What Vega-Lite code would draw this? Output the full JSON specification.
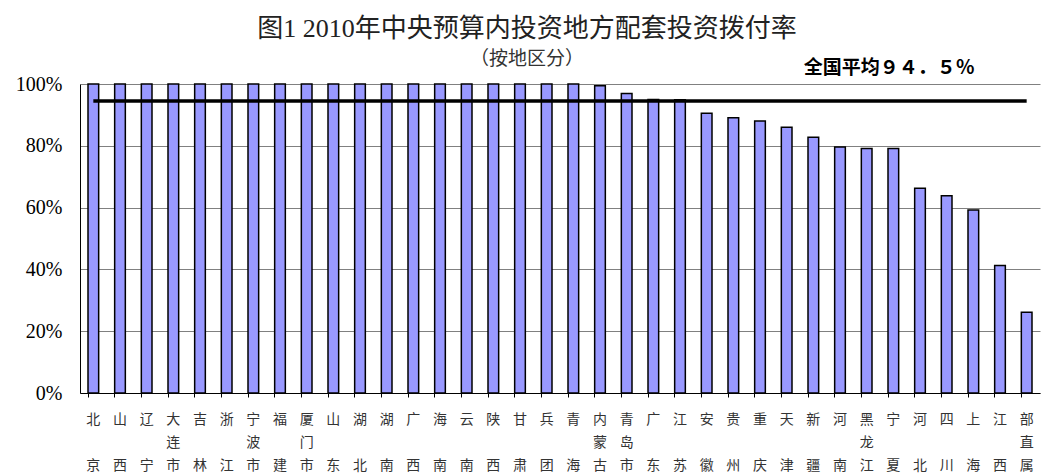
{
  "$schema": "https://vega.github.io/schema/vega-lite/v6.json",
  "autosize": {"type": "none"},
  "padding": {"left": 80, "top": 84, "right": 2, "bottom": 81},
  "width": 960,
  "height": 309,
  "background": "white",
  "config": {"view": {"stroke": null}},
  "title": {
    "text": "图1 2010年中央预算内投资地方配套投资拨付率",
    "subtitle": "（按地区分）",
    "anchor": "middle",
    "frame": "group",
    "dx": -33,
    "offset": -10,
    "font": "Liberation Serif, Noto Sans CJK SC",
    "fontSize": 26,
    "fontWeight": "normal",
    "color": "#222222",
    "subtitleFont": "Liberation Serif, Noto Sans CJK SC",
    "subtitleFontSize": 19,
    "subtitleColor": "#333333",
    "subtitlePadding": 8
  },
  "data": {
    "values": [
      {"region": "北京", "rate": 100, "avg": 94.5},
      {"region": "山西", "rate": 100, "avg": 94.5},
      {"region": "辽宁", "rate": 100, "avg": 94.5},
      {"region": "大连市", "rate": 100, "avg": 94.5},
      {"region": "吉林", "rate": 100, "avg": 94.5},
      {"region": "浙江", "rate": 100, "avg": 94.5},
      {"region": "宁波市", "rate": 100, "avg": 94.5},
      {"region": "福建", "rate": 100, "avg": 94.5},
      {"region": "厦门市", "rate": 100, "avg": 94.5},
      {"region": "山东", "rate": 100, "avg": 94.5},
      {"region": "湖北", "rate": 100, "avg": 94.5},
      {"region": "湖南", "rate": 100, "avg": 94.5},
      {"region": "广西", "rate": 100, "avg": 94.5},
      {"region": "海南", "rate": 100, "avg": 94.5},
      {"region": "云南", "rate": 100, "avg": 94.5},
      {"region": "陕西", "rate": 100, "avg": 94.5},
      {"region": "甘肃", "rate": 100, "avg": 94.5},
      {"region": "兵团", "rate": 100, "avg": 94.5},
      {"region": "青海", "rate": 100, "avg": 94.5},
      {"region": "内蒙古", "rate": 99.4, "avg": 94.5},
      {"region": "青岛市", "rate": 96.9, "avg": 94.5},
      {"region": "广东", "rate": 95.0, "avg": 94.5},
      {"region": "江苏", "rate": 94.9, "avg": 94.5},
      {"region": "安徽", "rate": 90.5, "avg": 94.5},
      {"region": "贵州", "rate": 89.1, "avg": 94.5},
      {"region": "重庆", "rate": 88.0, "avg": 94.5},
      {"region": "天津", "rate": 86.0, "avg": 94.5},
      {"region": "新疆", "rate": 82.8, "avg": 94.5},
      {"region": "河南", "rate": 79.6, "avg": 94.5},
      {"region": "黑龙江", "rate": 79.1, "avg": 94.5},
      {"region": "宁夏", "rate": 79.1, "avg": 94.5},
      {"region": "河北", "rate": 66.3, "avg": 94.5},
      {"region": "四川", "rate": 63.8, "avg": 94.5},
      {"region": "上海", "rate": 59.2, "avg": 94.5},
      {"region": "江西", "rate": 41.3, "avg": 94.5},
      {"region": "部直属", "rate": 26.1, "avg": 94.5}
    ]
  },
  "encoding": {
    "x": {
      "field": "region",
      "type": "nominal",
      "sort": null,
      "scale": {"paddingInner": 0.6, "paddingOuter": 0.3},
      "axis": {
        "title": null,
        "labelAngle": 0,
        "labelAlign": "center",
        "labelBaseline": "top",
        "labelFont": "Noto Sans CJK SC",
        "labelFontSize": 14,
        "labelColor": "#333333",
        "labelLineHeight": 23,
        "labelPadding": 15,
        "labelOverlap": false,
        "labelBound": false,
        "labelExpr": "substring(datum.value, 2, 3) == '' ? [substring(datum.value, 0, 1), '\u200b', substring(datum.value, 1, 2)] : [substring(datum.value, 0, 1), substring(datum.value, 1, 2), substring(datum.value, 2, 3)]",
        "bandPosition": 0,
        "ticks": true,
        "tickSize": 4,
        "tickColor": "#000000",
        "tickWidth": 1,
        "domainColor": "#000000",
        "domainWidth": 1,
        "grid": false
      }
    }
  },
  "layer": [
    {
      "mark": {"type": "bar", "fill": "#9999FF", "stroke": "#000000", "strokeWidth": 1.5},
      "encoding": {
        "y": {
          "field": "rate",
          "type": "quantitative",
          "scale": {"domain": [0, 100], "nice": false},
          "axis": {
            "title": null,
            "values": [0, 20, 40, 60, 80, 100],
            "labelExpr": "datum.value + '%'",
            "labelFont": "Liberation Serif",
            "labelFontSize": 20,
            "labelColor": "#000000",
            "labelPadding": 18,
            "ticks": false,
            "grid": true,
            "gridColor": "#808080",
            "gridWidth": 1,
            "domain": true,
            "domainColor": "#000000",
            "domainWidth": 1
          }
        }
      }
    },
    {
      "mark": {"type": "line", "color": "#000000", "strokeWidth": 3.5},
      "encoding": {
        "y": {"field": "avg", "type": "quantitative"}
      }
    },
    {
      "transform": [{"filter": "datum.region == '宁夏'"}],
      "mark": {
        "type": "text",
        "font": "Noto Sans CJK SC",
        "fontSize": 19,
        "fontWeight": "bold",
        "color": "#000000",
        "align": "center",
        "baseline": "middle",
        "dx": -4,
        "dy": -33
      },
      "encoding": {
        "y": {"field": "avg", "type": "quantitative"},
        "text": {"value": "全国平均９４．５％"}
      }
    }
  ]
}
